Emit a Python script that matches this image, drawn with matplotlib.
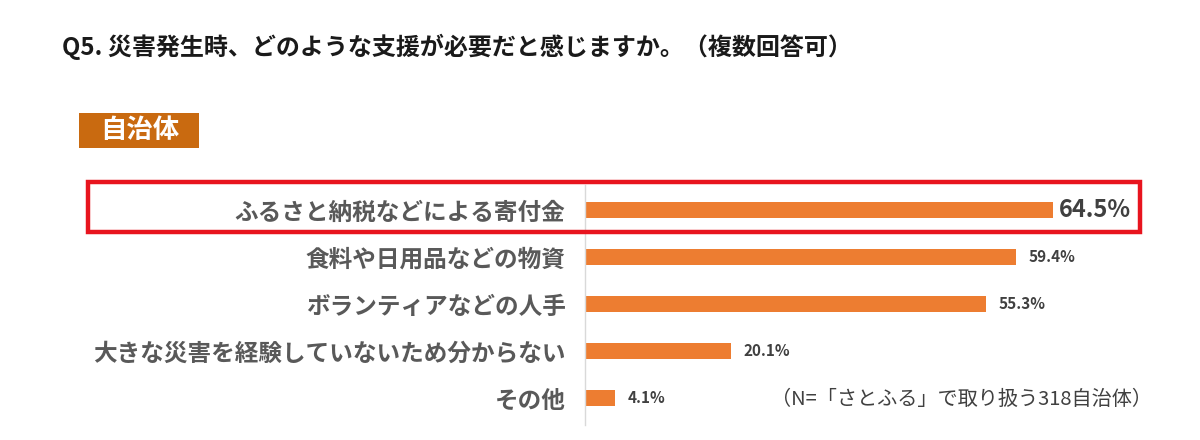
import matplotlib.pyplot as plt
from matplotlib.patches import Rectangle

plt.rcParams['font.family'] = ['Noto Sans CJK JP', 'DejaVu Sans']

categories = ["ふるさと納税などによる寄付金", "食料や日用品などの物資", "ボランティアなどの人手",
              "大きな災害を経験していないため分からない", "その他"]
values = [64.5, 59.4, 55.3, 20.1, 4.1]
labels = ["64.5%", "59.4%", "55.3%", "20.1%", "4.1%"]

W, H = 1200, 440
fig = plt.figure(figsize=(W / 100, H / 100), dpi=100)


def fx(px):
    return px / W


def fy(py):
    return 1 - py / H


ax = fig.add_axes([fx(585), fy(425), fx(1165) - fx(585), (425 - 185) / H])
ypos = list(range(len(categories)))
ax.barh(ypos, values, height=0.34, color="#ED7D31")
ax.set_xlim(0, 80)
ax.set_ylim(4.57, -0.53)
ax.set_yticks(ypos)
ax.set_yticklabels(categories, fontsize=17, color="#595959", fontweight="bold")
ax.tick_params(axis="y", length=0, pad=14)
ax.set_xticks([])
for s in ["top", "right", "bottom"]:
    ax.spines[s].set_visible(False)
ax.spines["left"].set_color("#D9D9D9")
ax.spines["left"].set_linewidth(1)

for i, (v, lab) in enumerate(zip(values, labels)):
    if i == 0:
        ax.text(v + 0.9, i, lab, va="center", ha="left", fontsize=17, fontweight="bold", color="#404040")
    else:
        ax.text(v + 1.8, i, lab, va="center", ha="left", fontsize=11, fontweight="bold", color="#404040")

# title
fig.text(fx(62), fy(47), "Q5. 災害発生時、どのような支援が必要だと感じますか。（複数回答可）",
         fontsize=17.3, fontweight="bold", color="#1a1a1a", va="center", ha="left")

# section badge
fig.patches.append(Rectangle((fx(79), fy(148)), fx(199) - fx(79), (148 - 113) / H,
                             transform=fig.transFigure, facecolor="#C96A10", edgecolor="none"))
fig.text(fx(140), fy(131), "自治体", fontsize=19, fontweight="bold", color="white",
         ha="center", va="center")

# highlight box
fig.patches.append(Rectangle((fx(88), fy(232)), fx(1140) - fx(88), (232 - 182) / H,
                             transform=fig.transFigure, facecolor="none", edgecolor="#E8141E",
                             linewidth=3.2, zorder=5))

fig.text(fx(1152), fy(399), "（N=「さとふる」で取り扱う318自治体）", fontsize=14.5,
         color="#404040", ha="right", va="center")

fig.savefig("out.png", dpi=100)
